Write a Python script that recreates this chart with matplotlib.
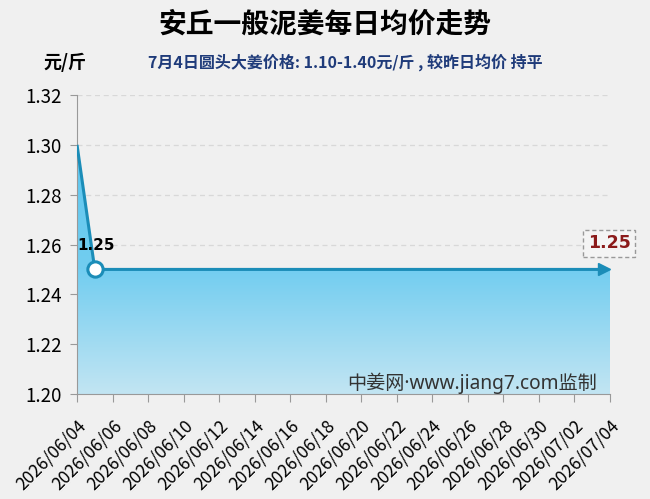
import matplotlib
matplotlib.use("Agg")
import matplotlib.pyplot as plt
import matplotlib.dates as mdates
import matplotlib.transforms as mtransforms
import numpy as np
from datetime import datetime, timedelta
from matplotlib.patches import Polygon
from matplotlib.colors import LinearSegmentedColormap

plt.rcParams['font.family'] = ['Noto Sans CJK SC', 'DejaVu Sans']

title = "安丘一般泥姜每日均价走势"
subtitle = "7月4日圆头大姜价格: 1.10-1.40元/斤 , 较昨日均价 持平"
unit = "元/斤"
watermark = "中姜网·www.jiang7.com监制"

start_date = "2026-06-04"
prices = [1.30, 1.25, 1.25, 1.25, 1.25, 1.25, 1.25, 1.25, 1.25, 1.25,
          1.25, 1.25, 1.25, 1.25, 1.25, 1.25, 1.25, 1.25, 1.25, 1.25,
          1.25, 1.25, 1.25, 1.25, 1.25, 1.25, 1.25, 1.25, 1.25, 1.25, 1.25]
y_ticks = [1.20, 1.22, 1.24, 1.26, 1.28, 1.30, 1.32]

d0 = datetime.strptime(start_date, "%Y-%m-%d")
dates = [d0 + timedelta(days=i) for i in range(len(prices))]
x = mdates.date2num(dates)

bg = "#f0f0f0"
line_c = "#1b8db8"
fig = plt.figure(figsize=(6.5, 4.99), dpi=100, facecolor=bg)
ax = fig.add_axes([0.1185, 0.2104, 0.82, 0.5992])
ax.set_facecolor(bg)

ymin, ymax = 1.20, 1.32
ax.set_xlim(x[0], x[-1])
ax.set_ylim(ymin, ymax)

# gradient fill
grad = np.linspace(0, 1, 256).reshape(-1, 1)
cmap = LinearSegmentedColormap.from_list("g", ["#c2e5f3", "#72cdf0", "#5ec6ef"])
im = ax.imshow(grad, extent=[x[0], x[-1], ymin, max(prices)], origin="lower",
               aspect="auto", cmap=cmap, zorder=1)
verts = [(x[0], ymin)] + list(zip(x, prices)) + [(x[-1], ymin)]
poly = Polygon(verts, closed=True, transform=ax.transData, facecolor="none", edgecolor="none")
ax.add_patch(poly)
im.set_clip_path(poly)

ax.plot(x[:-1].tolist() + [x[-1] - 0.3], prices, color=line_c, lw=2.2, zorder=3,
        solid_capstyle="butt")
arrow_tr = mtransforms.offset_copy(ax.transData, fig=fig, x=-4, y=0, units="points")
ax.plot(x[-1], prices[-1], marker=">", color=line_c, ms=8, zorder=4, clip_on=False,
        transform=arrow_tr)
ax.plot(x[1], prices[1], marker="o", ms=11, mfc="white", mec=line_c, mew=2.2, zorder=5)

ax.text(x[0] + 0.0, prices[1] + 0.0065, f"{prices[1]:.2f}", fontsize=11, fontweight="bold",
        color="black", ha="left", va="bottom", zorder=6, family=['DejaVu Sans'])
ax.text(x[-1] - 0.05, prices[-1] + 0.0105, f"{prices[-1]:.2f}", fontsize=12.5, fontweight="bold",
        color="#8b1a1a", ha="center", va="center", zorder=6, family=['DejaVu Sans'],
        bbox=dict(boxstyle="square,pad=0.25", fc="#f4f4f4", ec="#999999", ls=(0, (3, 2)), lw=1))

ax.set_yticks(y_ticks)
ax.set_yticklabels([f"{v:.2f}" for v in y_ticks], fontsize=13.5)
tick_dates = x[::2]
ax.set_xticks(tick_dates)
ax.set_xticklabels([d.strftime("%Y/%m/%d") for d in dates[::2]], rotation=45,
                   ha="right", rotation_mode="anchor", fontsize=12.5)
ax.tick_params(axis="x", length=6, color="#999999", pad=10)
ax.tick_params(axis="y", length=5, color="#999999", pad=6)

for s in ["top", "right"]:
    ax.spines[s].set_visible(False)
for s in ["left", "bottom"]:
    ax.spines[s].set_color("#999999")

ax.grid(axis="y", color="#d8d8d8", ls=(0, (4, 3)), lw=0.9, zorder=0)
ax.set_axisbelow(True)

fig.text(0.5, 0.951, title, fontsize=20, fontweight="bold", ha="center", va="center")
fig.text(0.100, 0.876, unit, fontsize=13, fontweight="bold", ha="center", va="center")
fig.text(0.531, 0.876, subtitle, fontsize=11.5, fontweight="bold", color="#1f3b7a",
         ha="center", va="center")
ax.text(0.976, 0.035, watermark, transform=ax.transAxes, fontsize=13.8, color="#333333",
        ha="right", va="center", zorder=6, family=['Noto Sans', 'Noto Sans CJK SC'])

fig.savefig("out.png", dpi=100, facecolor=bg)
